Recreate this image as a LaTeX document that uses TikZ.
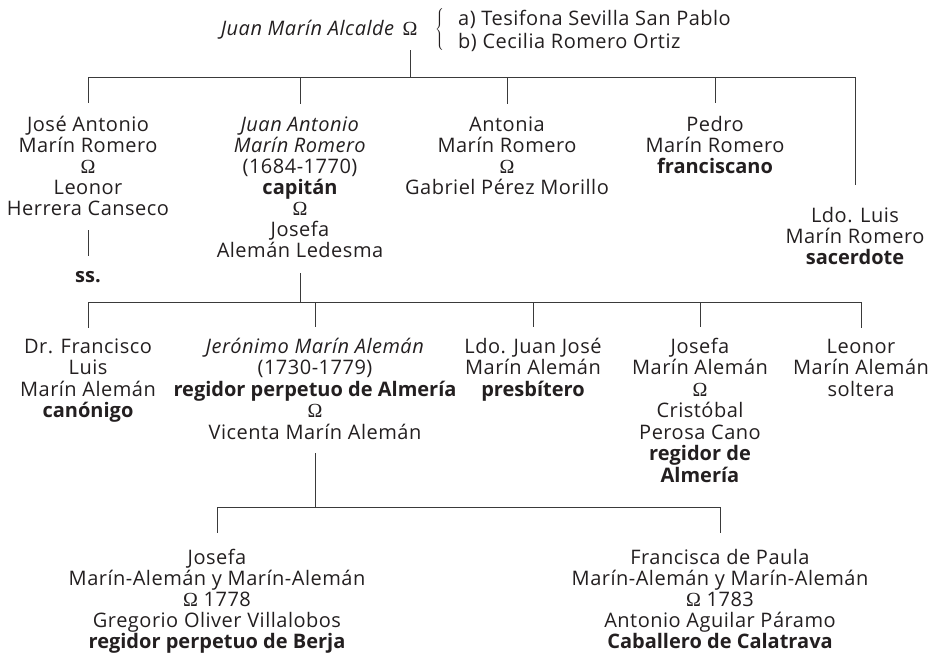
\documentclass[tikz,border=0pt]{standalone}
\usepackage{fontspec}
\setmainfont{Open Sans}[LetterSpace=2.5, BoldFeatures={LetterSpace=0}]
\newfontfamily\omfont{Liberation Serif}
\usepackage{tikz}
\usetikzlibrary{positioning}
\definecolor{ink}{HTML}{231F20}
\definecolor{rule}{HTML}{3A3A3A}
\tikzset{
  line/.style={draw=rule, line width=0.9pt},
  lbl/.style={text=ink, align=center, inner sep=0pt, anchor=base,
    font=\fontsize{20}{21.5}\selectfont},
  lbltight/.style={lbl, font=\fontsize{20}{21}\selectfont},
  lblwide/.style={lbl, font=\fontsize{20}{23}\selectfont}
}
\newcommand{\om}{{\omfont Ω}}

\begin{document}
\begin{tikzpicture}[x=1pt,y=-1pt]
  \useasboundingbox (0,0) rectangle (935,656);
  \coordinate (bar1) at (0,77);
  \coordinate (bar2) at (0,302);
  \coordinate (bar3) at (0,507);

  \node[lbl] (jmaom) at (410,35) {\om};
  \node[lbl, anchor=base east] (jma) at ([xshift=-8pt]jmaom.base west) {\itshape Juan Marín Alcalde};
  \node[lbl, anchor=west] (llave) at (435,29.5) {$\left\{\vcenter{\hrule height 42pt width 0pt}\right.$};
  \node[lblwide, align=left, anchor=base west] (esposas) at (458,48) {a) Tesifona Sevilla San Pablo\\b) Cecilia Romero Ortiz};

  \node[lbltight] (jose) at (88,215) {José Antonio\\Marín Romero\\\om\\Leonor\\Herrera Canseco};
  \node[lbltight] (juanan) at (300,257) {\textit{Juan Antonio}\\\textit{Marín Romero}\\(1684-1770)\\\textbf{capitán}\\\om\\Josefa\\Alemán Ledesma};
  \node[lbltight] (antonia) at (507,194) {Antonia\\Marín Romero\\\om\\Gabriel Pérez Morillo};
  \node[lbltight] (pedro) at (715,173) {Pedro\\Marín Romero\\\textbf{franciscano}};
  \node[lbltight] (luis) at (855,264) {Ldo. Luis\\Marín Romero\\\textbf{sacerdote}};
  \node[lbl] (ss) at (88,282) {\textbf{ss.}};

  \node[lbl] (francisco) at (88,417.5) {Dr. Francisco\\Luis\\Marín Alemán\\\textbf{canónigo}};
  \node[lbl] (jeronimo) at (315,439) {\textit{Jerónimo Marín Alemán}\\(1730-1779)\\\textbf{regidor perpetuo de Almería}\\\om\\Vicenta Marín Alemán};
  \node[lbl] (juanjose) at (533,396) {Ldo. Juan José\\Marín Alemán\\\textbf{presbítero}};
  \node[lbl] (josefa) at (700,482) {Josefa\\Marín Alemán\\\om\\Cristóbal\\Perosa Cano\\\textbf{regidor de}\\\textbf{Almería}};
  \node[lbl] (leonor) at (861,396) {Leonor\\Marín Alemán\\soltera};

  \node[lbltight] (josefa2) at (217,648) {Josefa\\Marín-Alemán y Marín-Alemán\\\om\ 1778\\Gregorio Oliver Villalobos\\\textbf{regidor perpetuo de Berja}};
  \node[lbltight] (francisca) at (720,648) {Francisca de Paula\\Marín-Alemán y Marín-Alemán\\\om\ 1783\\Antonio Aguilar Páramo\\\textbf{Caballero de Calatrava}};

  \draw[line, shorten <=15pt] (jmaom.south) -- (jmaom |- bar1);
  \draw[line] (jose |- bar1) -- (luis |- bar1);
  \foreach \n/\s in {jose/12.5,juanan/12.5,antonia/12.5,pedro/12.5,luis/21.5}
    \draw[line, shorten >=\s pt] (\n |- bar1) -- (\n.north);
  \draw[line, shorten <=15pt, shorten >=15pt] (jose.south) -- (ss.north);

  \draw[line, shorten <=16pt] (juanan.south) -- (juanan |- bar2);
  \draw[line] (francisco |- bar2) -- (leonor |- bar2);
  \foreach \n in {francisco,jeronimo,juanjose,josefa,leonor}
    \draw[line, shorten >=10.5pt] (\n |- bar2) -- (\n.north);

  \draw[line, shorten <=14pt] (jeronimo.south) -- (jeronimo |- bar3);
  \draw[line] (josefa2 |- bar3) -- (francisca |- bar3);
  \foreach \n in {josefa2,francisca}
    \draw[line, shorten >=15.5pt] (\n |- bar3) -- (\n.north);
\end{tikzpicture}
\end{document}
